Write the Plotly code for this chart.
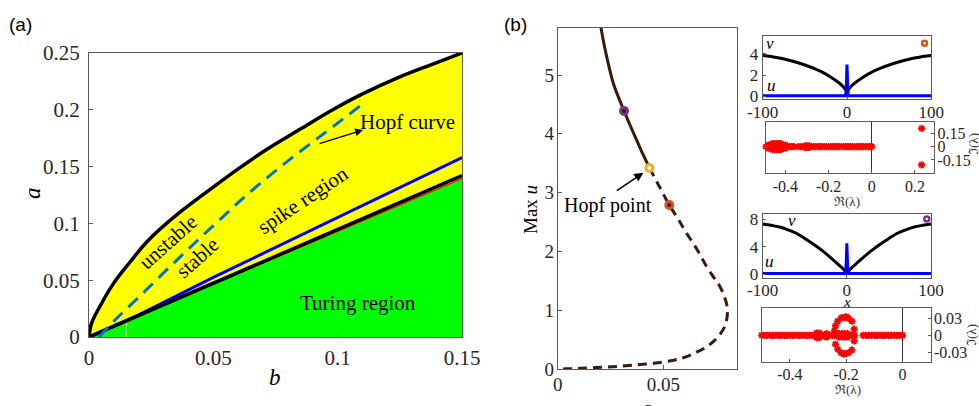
import plotly.graph_objects as go

W, H = 979, 406
SERIF = "Liberation Serif"
SANS = "Liberation Sans"

# ---------------- Panel (a) data ----------------
b_upper = [0, 0.001, 0.0044, 0.0098, 0.0165, 0.0238, 0.035, 0.05, 0.06, 0.0714, 0.085, 0.098, 0.11, 0.125, 0.138, 0.15]
a_upper = [0, 0.012, 0.027, 0.047, 0.066, 0.085, 0.107, 0.132, 0.148, 0.165, 0.183, 0.2, 0.214, 0.229, 0.24, 0.25]
b_hopf = [0.004, 0.010, 0.020, 0.035, 0.050, 0.065, 0.080, 0.095, 0.110]
a_hopf = [0.0, 0.014, 0.035, 0.067, 0.098, 0.128, 0.155, 0.180, 0.205]
b_spike = [0, 0.02, 0.05, 0.1, 0.15]
a_spike = [0, 0.0195, 0.0525, 0.105, 0.158]
b_lower = [0, 0.15]
a_lower = [0, 0.142]
b_turing = [0, 0.15]
a_turing = [0, 0.1395]
b_ticks = [0, 0.05, 0.1, 0.15]
b_ticktext = ["0", "0.05", "0.1", "0.15"]
a_ticks = [0, 0.05, 0.1, 0.15, 0.2, 0.25]
a_ticktext = ["0", "0.05", "0.1", "0.15", "0.2", "0.25"]

# ---------------- Panel (b) data ----------------
a_stable = [0.0200, 0.0208, 0.0232, 0.0263, 0.0290, 0.0314, 0.0342, 0.0374, 0.0405, 0.0434]
u_stable = [5.95, 5.74, 5.31, 4.86, 4.60, 4.39, 4.15, 3.89, 3.64, 3.42]
a_unstable = [0.0434, 0.0480, 0.0528, 0.0570, 0.0610, 0.0660, 0.0705, 0.0740, 0.0768, 0.0790, 0.0803, 0.0800, 0.0790, 0.0768, 0.0740, 0.0705, 0.0660, 0.0610, 0.0550, 0.0453, 0.0350, 0.0263, 0.0180, 0.0106, 0.0040, 0.0]
u_unstable = [3.42, 3.11, 2.79, 2.55, 2.31, 2.03, 1.74, 1.55, 1.40, 1.22, 1.03, 0.85, 0.72, 0.59, 0.48, 0.38, 0.29, 0.21, 0.15, 0.096, 0.062, 0.040, 0.024, 0.011, 0.003, 0.0]
pt_purple = (0.0314, 4.39)
pt_hopf = (0.0434, 3.42)
pt_orange = (0.0528, 2.79)
bx_ticks = [0, 0.05]
bx_ticktext = ["0", "0.05"]
by_ticks = [0, 1, 2, 3, 4, 5]

# ---------------- Profiles ----------------
x_prof = [-100, -90, -80, -70, -60, -50, -40, -30, -20, -10, -5, 0, 5, 10, 20, 30, 40, 50, 60, 70, 80, 90, 100]
v_top = [3.85, 3.75, 3.6, 3.42, 3.2, 2.95, 2.65, 2.3, 1.85, 1.3, 0.95, 0.55, 0.95, 1.3, 1.85, 2.3, 2.65, 2.95, 3.2, 3.42, 3.6, 3.75, 3.85]
v_bot = [7.3, 7.1, 6.85, 6.45, 5.95, 5.2, 4.4, 3.5, 2.5, 1.4, 0.85, 0.3, 0.85, 1.4, 2.5, 3.5, 4.4, 5.2, 5.95, 6.45, 6.85, 7.1, 7.3]
x_spike = [-100, -1.5, -0.7, 0, 0.7, 1.5, 100]
u_top = [0.05, 0.05, 1.2, 3.0, 1.2, 0.05, 0.05]
u_bot = [0.1, 0.1, 1.8, 4.5, 1.8, 0.1, 0.1]
mark_top = (92, 5.0)
mark_bot = (95, 8.0)
prof_xticks = [-100, 0, 100]
prof_xticktext = ["-100", "0", "100"]
top_yticks = [0, 2, 4]
bot_yticks = [0, 4, 8]

# ---------------- Spectra ----------------
s1_re = [-0.49, -0.485, -0.48, -0.475, -0.47, -0.465, -0.46, -0.455, -0.45, -0.445, -0.44, -0.435, -0.43, -0.425, -0.42,
         -0.415, -0.41, -0.40, -0.39, -0.38, -0.37, -0.36, -0.34, -0.33, -0.32, -0.30, -0.295, -0.29, -0.28, -0.27,
         -0.26, -0.25, -0.24, -0.23, -0.22, -0.21, -0.20, -0.19, -0.18, -0.17, -0.16, -0.15, -0.14, -0.13, -0.12,
         -0.11, -0.10, -0.09, -0.08, -0.07, -0.06, -0.05, -0.04, -0.03, -0.02, -0.01, -0.005, 0.0,
         -0.48, -0.47, -0.46, -0.45, -0.44, -0.43, -0.42, -0.41, -0.40,
         -0.48, -0.47, -0.46, -0.45, -0.44, -0.43, -0.42, -0.41, -0.40,
         -0.46, -0.45, -0.44, -0.43, -0.42, -0.46, -0.45, -0.44, -0.43, -0.42,
         -0.31, -0.30, -0.29, -0.31, -0.30, -0.29,
         0.231, 0.231]
s1_im = [0.0] * 58 + [0.018] * 9 + [-0.018] * 9 + [0.033] * 5 + [-0.033] * 5 + [0.008] * 3 + [-0.008] * 3 + [0.205, -0.205]
s1_ticks = [-0.15, 0, 0.15]
s1_ticktext = ["-0.15", "0", "0.15"]
s1_xticks = [-0.4, -0.2, 0, 0.2]
s1_xticktext = ["-0.4", "-0.2", "0", "0.2"]

s2_re = [-0.50, -0.49, -0.48, -0.47, -0.46, -0.45, -0.44, -0.43, -0.42, -0.41, -0.40, -0.39, -0.38, -0.37, -0.36,
         -0.35, -0.34, -0.33, -0.32, -0.31, -0.30, -0.29, -0.28, -0.27, -0.26, -0.25, -0.24, -0.23, -0.22, -0.21,
         -0.20, -0.19, -0.18, -0.17, -0.14, -0.13, -0.12, -0.11, -0.10, -0.09, -0.08, -0.07, -0.06, -0.05, -0.04,
         -0.03, -0.02, -0.01, 0.0,
         -0.305, -0.295, -0.305, -0.295, -0.27, -0.27, -0.225, -0.215, -0.205, -0.195, -0.225, -0.215, -0.205, -0.195,
         -0.205, -0.192, -0.180, -0.218, -0.230, -0.238, -0.242, -0.238, -0.230, -0.218, -0.205, -0.192, -0.180,
         -0.172, -0.172, -0.200, -0.210]
s2_im = [0.0] * 49 + [0.004, 0.004, -0.004, -0.004, 0.003, -0.003, 0.003, 0.003, 0.003, 0.003,
                      -0.003, -0.003, -0.003, -0.003,
                      0.032, 0.030, 0.025, 0.031, 0.025, 0.017, 0.008, -0.016, -0.025, -0.031, -0.033, -0.031, -0.026,
                      0.011, -0.010, 0.033, -0.033]
s2_ticks = [-0.03, 0, 0.03]
s2_ticktext = ["-0.03", "0", "0.03"]
s2_xticks = [-0.4, -0.2, 0]
s2_xticktext = ["-0.4", "-0.2", "0"]

BROWN = "#3d1908"
PURPLE = "#7E2F8E"
ORANGE = "#D95319"
GOLD = "#EDB120"


def px(x):
    return x / W


def py(y):
    return 1 - y / H


fig = go.Figure()

# ---- panel (a)
ax = dict(xaxis="x", yaxis="y")
fig.add_trace(go.Scatter(x=b_upper, y=a_upper, mode="lines", fill="tozeroy", fillcolor="#FFFF00",
                         line=dict(width=0, shape="spline"), hoverinfo="skip", **ax))
fig.add_trace(go.Scatter(x=b_turing, y=a_turing, mode="lines", fill="tozeroy", fillcolor="#00FF00",
                         line=dict(width=0), hoverinfo="skip", **ax))
fig.add_trace(go.Scatter(x=[0.015, 0.015], y=[0, 0.0139], mode="lines",
                         line=dict(color="rgba(255,255,255,0.7)", width=1), **ax))
fig.add_trace(go.Scatter(x=b_turing, y=a_turing, mode="lines", line=dict(color="#FF0000", width=1.2), **ax))
fig.add_trace(go.Scatter(x=b_spike, y=a_spike, mode="lines", line=dict(color="#0000FF", width=3), **ax))
fig.add_trace(go.Scatter(x=b_lower, y=a_lower, mode="lines", line=dict(color="black", width=3.5), **ax))
fig.add_trace(go.Scatter(x=b_hopf, y=a_hopf, mode="lines",
                         line=dict(color="#0072BD", width=3, dash="13px,8px", shape="spline"), **ax))
fig.add_trace(go.Scatter(x=b_upper, y=a_upper, mode="lines",
                         line=dict(color="black", width=3.5, shape="spline"), **ax))

# ---- panel (b)
bx = dict(xaxis="x2", yaxis="y2")
fig.add_trace(go.Scatter(x=a_unstable, y=u_unstable, mode="lines",
                         line=dict(color=BROWN, width=3, dash="9px,6px", shape="spline"), **bx))
fig.add_trace(go.Scatter(x=a_stable, y=u_stable, mode="lines", line=dict(color=BROWN, width=3, shape="spline"), **bx))
for (pt, col, inner) in [(pt_purple, PURPLE, BROWN), (pt_orange, ORANGE, BROWN), (pt_hopf, GOLD, "white")]:
    fig.add_trace(go.Scatter(x=[pt[0]], y=[pt[1]], mode="markers",
                             marker=dict(symbol="circle", size=7, color=inner, line=dict(color=col, width=3)), **bx))

# ---- profiles
for (xa, ya, vv, uu, mk, col) in [("x3", "y3", v_top, u_top, mark_top, ORANGE),
                                   ("x5", "y5", v_bot, u_bot, mark_bot, PURPLE)]:
    fig.add_trace(go.Scatter(x=x_prof, y=vv, mode="lines", line=dict(color="black", width=3, shape="spline"),
                             xaxis=xa, yaxis=ya))
    fig.add_trace(go.Scatter(x=x_spike, y=uu, mode="lines", line=dict(color="#0000FF", width=3), xaxis=xa, yaxis=ya))
    fig.add_trace(go.Scatter(x=[mk[0]], y=[mk[1]], mode="markers",
                             marker=dict(symbol="circle", size=5, color="white", line=dict(color=col, width=2.5)),
                             xaxis=xa, yaxis=ya, cliponaxis=False))

# ---- spectra
for (xa, ya, re, im) in [("x4", "y4", s1_re, s1_im), ("x6", "y6", s2_re, s2_im)]:
    fig.add_trace(go.Scatter(x=re, y=im, mode="markers",
                             marker=dict(symbol="asterisk-open", size=6, color="#FF0000",
                                         line=dict(color="#FF0000", width=1.8)),
                             xaxis=xa, yaxis=ya, cliponaxis=False))


def frame(size, **kw):
    d = dict(showline=True, linecolor="#5a5a5a", linewidth=1, mirror=True, ticks="inside", ticklen=4,
             tickcolor="#5a5a5a", showgrid=False, zeroline=False, fixedrange=True, automargin=False,
             ticklabeloverflow="allow",
             tickfont=dict(family=SERIF, size=size, color="#262626"))
    d.update(kw)
    return d


fig.update_layout(
    width=W, height=H, margin=dict(l=0, r=0, t=0, b=0, autoexpand=False), paper_bgcolor="white",
    plot_bgcolor="white", showlegend=False,
    xaxis=frame(21, domain=[px(89), px(462)], range=[0, 0.15], tickvals=b_ticks, ticktext=b_ticktext,
                anchor="y", ticklabelstandoff=2),
    yaxis=frame(21, domain=[py(337), py(53)], range=[0, 0.25], tickvals=a_ticks, ticktext=a_ticktext,
                anchor="x", ticklabelstandoff=4),
    xaxis2=frame(19, domain=[px(557.7), px(736.7)], range=[0, 0.0847], tickvals=bx_ticks, ticktext=bx_ticktext,
                 anchor="y2", ticklabelstandoff=-2),
    yaxis2=frame(19, domain=[py(369), py(28)], range=[0, 5.8], tickvals=by_ticks, anchor="x2",
                 ticklabelstandoff=-1),
    xaxis3=frame(17, domain=[px(762.7), px(931.3)], range=[-100, 100], tickvals=prof_xticks,
                 ticktext=prof_xticktext, anchor="y3", ticklen=3, ticklabelstandoff=-2),
    yaxis3=frame(17, domain=[py(98.5), py(35.7)], range=[-0.2, 5.7], tickvals=top_yticks, anchor="x3",
                 ticklen=3, ticklabelstandoff=0),
    xaxis4=frame(16, domain=[px(766), px(934.3)], range=[-0.49, 0.29], tickvals=s1_xticks, ticktext=s1_xticktext,
                 anchor="y4", ticklen=3, zeroline=True, zerolinecolor="#333", zerolinewidth=1, ticklabelstandoff=-2),
    yaxis4=frame(16, domain=[py(173.3), py(121.7)], range=[-0.3, 0.28], tickvals=s1_ticks, ticktext=s1_ticktext,
                 anchor="x4", side="right", ticklen=3, ticklabelstandoff=-1),
    xaxis5=frame(17, domain=[px(762.7), px(931)], range=[-100, 100], tickvals=prof_xticks,
                 ticktext=prof_xticktext, anchor="y5", ticklen=3, ticklabelstandoff=-3),
    yaxis5=frame(17, domain=[py(277.7), py(214.3)], range=[-0.5, 8.7], tickvals=bot_yticks, anchor="x5",
                 ticklen=3, ticklabelstandoff=0),
    xaxis6=frame(16, domain=[px(761.7), px(930.7)], range=[-0.5, 0.1], tickvals=s2_xticks, ticktext=s2_xticktext,
                 anchor="y6", ticklen=3, zeroline=True, zerolinecolor="#333", zerolinewidth=1, ticklabelstandoff=-3),
    yaxis6=frame(16, domain=[py(362.3), py(308.3)], range=[-0.048, 0.048], tickvals=s2_ticks, ticktext=s2_ticktext,
                 anchor="x6", side="right", ticklen=3, ticklabelstandoff=-1),
)


def note(text, x, y, size, family=SERIF, angle=0, xanchor="center", yanchor="middle", color="black"):
    fig.add_annotation(text=text, x=px(x), y=py(y), xref="paper", yref="paper", showarrow=False,
                       textangle=angle, xanchor=xanchor, yanchor=yanchor,
                       font=dict(family=family, size=size, color=color))


note("(a)", 7, 24, 19, family=SANS, xanchor="left")
note("(b)", 502, 24, 19, family=SANS, xanchor="left")
note("<i>a</i>", 33, 193, 23, angle=-90)
note("<i>b</i>", 275, 377, 23)
note("Hopf curve", 407, 122, 21)
note("unstable", 168, 242, 21, angle=-42)
note("stable", 197, 258, 21, angle=-42)
note("spike region", 303, 200, 21, angle=-34)
note("Turing region", 358, 303, 21)
note("Max <i>u</i>", 530, 210, 19, angle=-90)
note("<i>a</i>", 647, 407, 19)
note("Hopf point", 607.5, 205, 20)
note("<i>v</i>", 770, 43, 17)
note("<i>u</i>", 771.7, 85, 17)
note("<i>v</i>", 791.7, 220, 17)
note("<i>u</i>", 769.3, 261.7, 17)
note("<i>x</i>", 847, 302, 15)
note("ℜ(λ)", 847, 201, 13, color="#333")
note("ℜ(λ)", 848, 389, 13, color="#333")
note("ℑ(λ)", 973, 144, 13, angle=-90, color="#333")
note("ℑ(λ)", 971, 335, 13, angle=-90, color="#333")

# arrows
fig.add_annotation(x=px(363), y=py(130), xref="paper", yref="paper", ax=-45, ay=14, axref="pixel", ayref="pixel",
                   showarrow=True, arrowhead=2, arrowsize=1.2, arrowwidth=1.3, arrowcolor="black", text="")
fig.add_annotation(x=px(643.3), y=py(172.7), xref="paper", yref="paper", ax=-28, ay=19, axref="pixel",
                   ayref="pixel", showarrow=True, arrowhead=2, arrowsize=1.2, arrowwidth=1.5, arrowcolor="black",
                   text="")

fig.write_html("out.html")
